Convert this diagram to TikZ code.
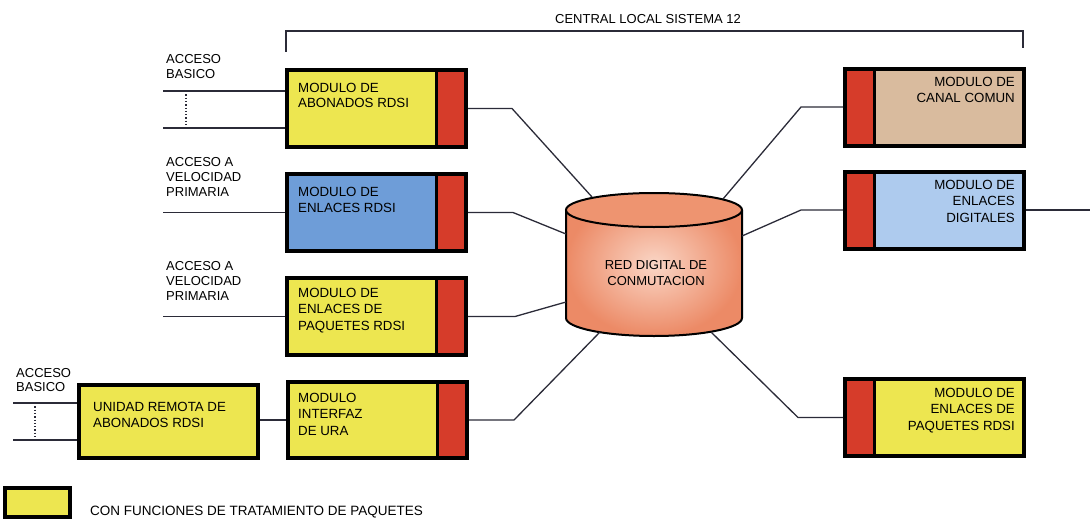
\documentclass[tikz,border=0pt]{standalone}
\usepackage{fontspec}
\setmainfont{Liberation Sans}
\usetikzlibrary{calc}
\definecolor{ylw}{HTML}{EDE650}
\definecolor{bluedk}{HTML}{6E9DD8}
\definecolor{bluelt}{HTML}{AECBEE}
\definecolor{tan}{HTML}{D9BB9E}
\definecolor{stripred}{HTML}{D63C2A}
\definecolor{cylc}{HTML}{EC8A66}
\definecolor{cyllight}{HTML}{FAD6C6}
\definecolor{cyltop}{HTML}{EE9470}
\definecolor{wirec}{HTML}{2B2B38}
\begin{document}
\begin{tikzpicture}[x=1pt,y=-1pt,
  mod/.style={draw=black, line width=4pt, inner sep=0pt, minimum width=179pt, minimum height=77pt},
  stripright/.style={path picture={
    \fill[stripred] ([xshift=-30pt]path picture bounding box.north east) rectangle (path picture bounding box.south east);
    \draw[line width=3pt] ([xshift=-30pt]path picture bounding box.north east) -- ([xshift=-30pt]path picture bounding box.south east);}},
  stripleft/.style={path picture={
    \fill[stripred] (path picture bounding box.north west) rectangle ([xshift=29pt]path picture bounding box.south west);
    \draw[line width=3pt] ([xshift=29pt]path picture bounding box.north west) -- ([xshift=29pt]path picture bounding box.south west);}},
  txt/.style={font=\fontsize{13.3}{16.5}\selectfont, align=left, inner sep=0pt, anchor=north west},
  rtxt/.style={font=\fontsize{13.3}{16.5}\selectfont, align=right, inner sep=0pt, anchor=north east},
  lbl/.style={font=\fontsize{13}{15}\selectfont, align=left, inner sep=0pt, anchor=north west},
  wire/.style={draw=wirec, line width=1.3pt},
  dots/.style={draw=wirec, line width=1.3pt, dotted}
]
\useasboundingbox (0,0) rectangle (1091,519);

% bracket
\node[font=\fontsize{13}{15}\selectfont, inner sep=0pt] (title) at (648,19) {CENTRAL LOCAL SISTEMA 12};
\coordinate (bl) at (286,52);
\coordinate (br) at (1023,48);
\draw[wirec, line width=1.5pt] (bl) |- (title.south |- 0,31) -| (br);

% left modules
\node[mod, fill=ylw, stripright] (m1) at (376.5,108.5) {};
\node[mod, fill=bluedk, stripright] (m2) at (376.5,212.5) {};
\node[mod, fill=ylw, stripright] (m3) at (376.5,316.5) {};
\node[mod, fill=ylw, stripright, minimum height=76pt] (m4) at (377.5,420) {};
\node[mod, fill=ylw, minimum height=73pt] (u) at (168.5,421.5) {};

\node[txt] (m1t) at (298,83) {MODULO DE\\[-1.5pt]ABONADOS RDSI};
\node[txt] (m2t) at (298,187) {MODULO DE\\ENLACES RDSI};
\node[txt] (m3t) at (298,288) {MODULO DE\\ENLACES DE\\PAQUETES RDSI};
\node[txt] (m4t) at (298,393) {MODULO\\INTERFAZ\\DE URA};
\node[txt] (ut) at (93,402) {UNIDAD REMOTA DE\\ABONADOS RDSI};

% right modules
\node[mod, fill=tan, stripleft] (r1) at (934.5,107) {};
\node[mod, fill=bluelt, stripleft] (r2) at (934.5,210) {};
\node[mod, fill=ylw, stripleft] (r3) at (934.5,417.5) {};

\node[rtxt] (r1t) at (1015,77) {MODULO DE\\CANAL COMUN};
\node[rtxt] (r2t) at (1015,180) {MODULO DE\\ENLACES\\DIGITALES};
\node[rtxt] (r3t) at (1015,388) {MODULO DE\\ENLACES DE\\PAQUETES RDSI};

% cylinder
\shade[inner color=cyllight, outer color=cylc] (566,210) -- (566,318) arc[start angle=180, end angle=360, x radius=88pt, y radius=18pt] -- (742,210) arc[start angle=0, end angle=180, x radius=88pt, y radius=17pt] -- cycle;
\draw[line width=2pt] (566,210) -- (566,318) arc[start angle=180, end angle=360, x radius=88pt, y radius=18pt] -- (742,210);
\draw[line width=2pt, fill=cyltop] (654,210) ellipse [x radius=88pt, y radius=17pt];
\node[font=\fontsize{13}{16}\selectfont, align=center, inner sep=0pt] (red) at (656,273) {RED DIGITAL DE\\CONMUTACION};

\coordinate (c1) at (592,197);
\coordinate (c2) at (566,234);
\coordinate (c3) at (566,302);
\coordinate (c4) at (600,332);
\coordinate (c5) at (723,199);
\coordinate (c6) at (742,236);
\coordinate (c7) at (711,332);

% connectors to network
\draw[wire] (m1.east) -- ++(44,0) -- (c1);
\draw[wire] (m2.east) -- ++(45,0) -- (c2);
\draw[wire] (m3.east) -- ++(47,0) -- (c3);
\draw[wire] (m4.east) -- ++(45,0) -- (c4);
\draw[wire] (r1.west) -- ++(-42,0) -- (c5);
\draw[wire] (r2.west) -- ++(-42,0) -- (c6);
\draw[wire] (r3.west) -- ++(-45,0) -- (c7);
\coordinate (rout) at (1090,210);
\draw[wire] (r2.east) -- (rout);
\draw[wire] (u.east |- m4.west) -- (m4.west);

% access lines
\node[lbl] (a1) at (166,54) {ACCESO\\BASICO};
\coordinate (a1a) at (163,91);
\coordinate (a1b) at (163,128);
\draw[wire] (a1a) -- (a1a -| m1.west);
\draw[wire] (a1b) -- (a1b -| m1.west);
\draw[dots] (186,91) -- (186,128);

\node[lbl] (a2) at (166,157) {ACCESO A\\VELOCIDAD\\PRIMARIA};
\coordinate (a2a) at (163,212.5);
\draw[wire] (a2a) -- (m2.west);

\node[lbl] (a3) at (166,261) {ACCESO A\\VELOCIDAD\\PRIMARIA};
\coordinate (a3a) at (163,316.5);
\draw[wire] (a3a) -- (m3.west);

\node[lbl, font=\fontsize{13}{14}\selectfont] (a4) at (16,368) {ACCESO\\BASICO};
\coordinate (a4a) at (13,403);
\coordinate (a4b) at (13,440);
\draw[wire] (a4a) -- (a4a -| u.west);
\draw[wire] (a4b) -- (a4b -| u.west);
\draw[dots] (35,403) -- (35,440);

% legend
\node[draw=black, line width=4pt, fill=ylw, minimum width=65pt, minimum height=29pt, inner sep=0pt] (leg) at (37.5,502.5) {};
\node[font=\fontsize{13.5}{15}\selectfont, inner sep=0pt, anchor=west] (legt) at (90,512) {CON FUNCIONES DE TRATAMIENTO DE PAQUETES};
\end{tikzpicture}
\end{document}
